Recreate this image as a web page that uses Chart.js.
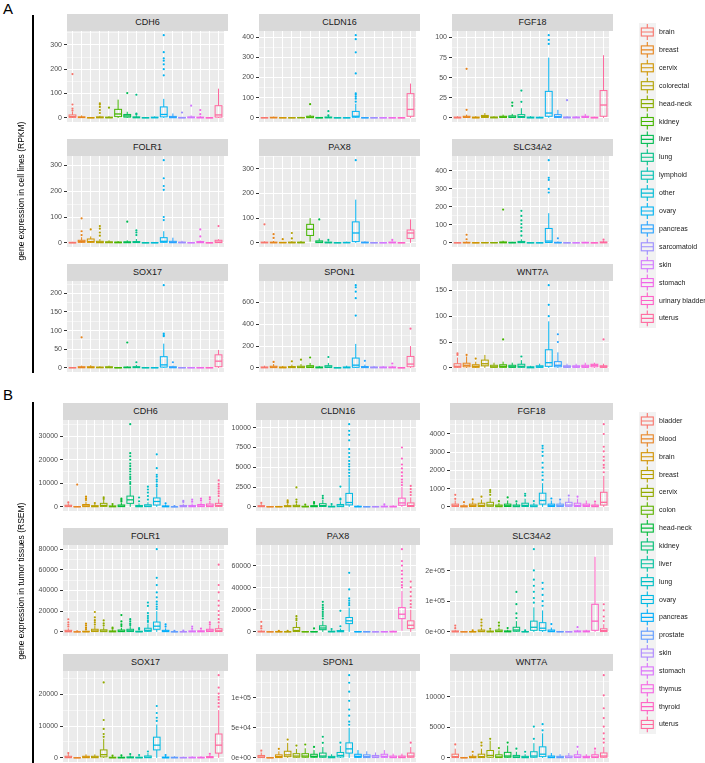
<!DOCTYPE html>
<html lang="en">
<head>
<meta charset="UTF-8">
<title>Gene expression boxplots</title>
<script src="https://cdn.jsdelivr.net/npm/chart.js@4.4.1/dist/chart.umd.min.js"></script>
<style>
  body { margin: 0; background: #fff; font-family: "Liberation Sans", Arial, sans-serif; }
  #fig { position: relative; width: 705px; height: 763px; overflow: hidden; background: #fff; }
  canvas { position: absolute; }
  .strip { position: absolute; height: 17px; line-height: 17px; background: #d9d9d9; color: #1a1a1a; font-size: 9px; text-align: center; }
  .letter { position: absolute; font-size: 15px; color: #000; }
  .ytitle { position: absolute; width: 360px; height: 10px; line-height: 10px; font-size: 8.5px; text-align: center; transform: rotate(-90deg); white-space: nowrap; color: #000; }
  .vline { position: absolute; width: 2px; background: #000; }
  .klab { position: absolute; font-size: 7px; color: #1a1a1a; white-space: nowrap; }
</style>
</head>
<body>
<div id="fig"></div>
<script>
// ---- categories ----
const cellLines = ['brain', 'breast', 'cervix', 'colorectal', 'head-neck', 'kidney', 'liver', 'lung', 'lymphoid',
  'other', 'ovary', 'pancreas', 'sarcomatoid', 'skin', 'stomach', 'urinary bladder', 'uterus'];
const tumors = ['bladder', 'blood', 'brain', 'breast', 'cervix', 'colon', 'head-neck', 'kidney', 'liver', 'lung',
  'ovary', 'pancreas', 'prostate', 'skin', 'stomach', 'thymus', 'thyroid', 'uterus'];

// ---- panel A, cell lines (RPKM): [lower whisker, q1, median, q3, upper whisker] ----
const A_CDH6_box = [[0,2,5,12,25],[0,1,2,4,10],[0,0,0.5,1,3],[0,0.5,1.5,4,9],[0,0.5,1,3,7],[0,5,16,35,75],[0,3,8,14,25],
  [0,0.5,1.5,4,10],[0,0,0.5,1,3],[0,0.5,1,3,6],[0,4,14,45,78],[0,0.5,2,6,18],[0,0,0.5,2,4],[0,0.5,1.5,4,10],[0,0.3,1,3,8],[0,0,0.3,1,2],[0,3,12,50,120]];
const A_CDH6_out = [[30,38,55,180],[],[],[20,32,45,55,60],[42],[],[102],[14,18,95],[],[],[175,200,220,235,245,270,340],[],[22],[50],[15,32],[],[]];
const A_CDH6_ticks = [0, 100, 200, 300];

const A_CLDN16_box = [[0,0,0.5,1.5,3],[0,0.5,1,3,6],[0,0,0.5,1,2],[0,0,0.5,1,2],[0,0.5,1,2,5],[0,1,3,8,15],[0,0,0.5,2,4],
  [0,0.5,1.5,4,10],[0,0,0.3,1,2],[0,0,0.3,1,2],[0,3,8,32,70],[0,0,0.5,1,3],[0,0,0.3,1,2],[0,0,0.3,1,2],[0,0,0.3,1,2],[0,0,0.3,1,2],[0,8,42,120,170]];
const A_CLDN16_out = [[],[],[],[],[],[68],[],[12,33],[],[],[80,95,105,115,122,220,325,390,410],[],[],[],[],[],[]];
const A_CLDN16_ticks = [0, 100, 200, 300, 400];

const A_FGF18_box = [[0,0,0.3,1,2],[0,0.5,1,2,4],[0,0,0.3,1,2],[0,0.5,1.5,3,6],[0,0,0.5,1,2],[0,0.5,1,2,4],[0,0.5,1,2.5,5],
  [0,0.5,1.5,4,12],[0,0,0.3,1,2],[0,0,0.3,0.8,1.5],[0,2,6,33,75],[0,0.5,1.5,4,10],[0,0,0.5,1,2],[0,0,0.5,1,2],[0,0.5,1,2,5],[0,0,0.3,0.8,1.5],[0,2,16,34,78]];
const A_FGF18_out = [[],[10,61],[],[],[],[],[15,19],[20,34],[],[],[92,97,103],[],[22],[],[],[],[]];
const A_FGF18_ticks = [0, 25, 50, 75, 100];

const A_FOLR1_box = [[0,0,0.5,2,4],[0,2,5,10,22],[0,2,5,15,25],[0,0.5,2,6,15],[0,0.5,2,4,10],[0,0.5,1.5,3,7],[0,0.5,2,4,10],
  [0,1,2,5,15],[0,0,0.3,1,2],[0,0,0.5,1.5,3],[0,2,6,20,45],[0,0.5,2,6,20],[0,0.5,1,3,8],[0,0,0.5,1,3],[0,0.5,2,5,9],[0,0,0.3,1,2],[0,1,3,10,14]];
const A_FOLR1_out = [[],[30,45,95],[52],[28,40,55,65],[],[],[82],[30,40,48],[],[],[88,100,205,220,250,320],[],[],[],[25,52],[],[65]];
const A_FOLR1_ticks = [0, 100, 200, 300];

const A_PAX8_box = [[0,0.5,1,3,6],[0,0.5,1,3,8],[0,0.5,1,2,4],[0,0.5,1,3,7],[0,0.5,1,3,8],[5,30,55,75,100],[0,1,3,8,18],
  [0,0.5,1,3,6],[0,0,0.5,1,3],[0,0.5,1,2,5],[0,5,40,85,175],[0,0.5,1,3,6],[0,0,0.5,1,3],[0,0,0.5,1,2],[0,0.5,1,3,6],[0,0,0.5,1,3],[0,18,40,52,95]];
const A_PAX8_out = [[75],[20,35],[15],[18,40],[],[],[95],[12],[],[],[335],[],[],[],[12],[],[]];
const A_PAX8_ticks = [0, 100, 200, 300];

const A_SLC34A2_box = [[0,0,0.5,1,3],[0,0.5,1,3,8],[0,0,0.5,1,3],[0,0.5,1,2,5],[0,0.5,1,2,5],[0,0.5,2,5,12],[0,0.5,1,3,6],
  [0,1,3,8,20],[0,0,0.5,1,2],[0,0,0.5,1,2],[0,2,10,80,165],[0,0.5,1,3,8],[0,0,0.5,1,2],[0,0,0.5,1,2],[0,0.5,1,3,6],[0,0,0.5,1,2],[0,0.5,2,5,12]];
const A_SLC34A2_out = [[],[20,45],[],[],[],[185],[],[40,65,85,105,125,150,178],[],[],[280,300,350,362,460],[25],[],[],[],[],[18]];
const A_SLC34A2_ticks = [0, 100, 200, 300, 400];

const A_SOX17_box = [[0,0,0.5,1,2],[0,0.5,1,3,6],[0,0.5,1,3,7],[0,0.5,1,2,4],[0,0.5,1,3,6],[0,0,0.5,1,2],[0,0.5,1,2,4],
  [0,0.5,1.5,3,8],[0,0,0.5,1,2],[0,0,0.5,1,2],[0,2,8,30,65],[0,0.5,1,3,6],[0,0,0.5,1,2],[0,0,0.5,1,2],[0,0,0.5,1,2],[0,0,0.5,1,2],[0,3,18,35,48]];
const A_SOX17_out = [[],[82],[],[],[],[],[68],[15],[],[],[85,88,92,222],[15],[],[],[],[],[]];
const A_SOX17_ticks = [0, 50, 100, 150, 200];

const A_SPON1_box = [[0,1,3,8,20],[0,2,6,15,35],[0,1,3,8,18],[0,2,5,12,30],[0,2,6,15,35],[0,3,8,20,45],[0,1,3,8,18],
  [0,3,8,20,45],[0,0,1,3,6],[0,1,3,8,20],[0,5,25,90,220],[0,2,5,12,30],[0,1,3,8,18],[0,1,3,8,18],[0,1,3,8,20],[0,0,1,3,6],[0,10,35,105,200]];
const A_SPON1_out = [[],[55],[],[60],[75],[95],[],[100],[],[],[480,640,700,740,760],[65],[],[],[40],[],[360]];
const A_SPON1_ticks = [0, 200, 400, 600];

const A_WNT7A_box = [[0,1,3,8,20],[0,2,5,9,22],[0,1,3,6,12],[0,4,8,15,25],[0,1,2,5,10],[0,1,3,6,12],[0,1,2,5,10],
  [0,1,3,7,15],[0,0,1,2,4],[0,1,2,4,8],[0,3,10,35,90],[0,2,5,12,30],[0,1,2,4,8],[0,1,2,4,8],[0,1,2,5,10],[0,2,5,7,10],[0,1,2,4,8]];
const A_WNT7A_out = [[25,28],[25],[18],[],[],[55],[],[22],[],[],[100,122,160],[50,65],[],[],[],[],[55]];
const A_WNT7A_ticks = [0, 50, 100, 150];

// ---- panel B, tumor tissues (RSEM) ----
const B_CDH6_box = [[0,100,300,700,1500],[0,20,60,150,350],[0,100,400,1000,2200],[0,50,200,500,1200],[0,200,600,1500,3000],[0,50,150,400,900],
  [0,100,300,800,1800],[0,1500,3000,4600,9000],[0,50,200,600,1500],[0,100,300,900,2000],[0,800,2300,3800,8000],[0,50,150,400,1000],
  [0,10,30,80,200],[0,50,200,600,1400],[0,50,200,600,1500],[0,100,400,1000,2000],[0,100,400,1200,2500],[0,200,600,1500,3500]];
const B_CDH6_out = [[1900],[9500],[2900,3600,4400],[1600],[3400,4100],[1200],[2300,2900,3500],
  [9800,10600,11900,12700,13800,15100,16200,17400,18500,20100,21600,22900,35300],[2400,4000],[3100,4600,6100,7400,8600],
  [8700,9500,10800,11600,12900,13700,16500,22400],[1500],[350],[2100,2600],[2200,3100],[2700,3500],[3200,4100],[4600,5700,6600,7800,8700,9800,11300]];
const B_CDH6_ticks = [0, 10000, 20000, 30000];

const B_CLDN16_box = [[0,20,60,150,350],[0,5,15,40,100],[0,5,20,50,120],[0,20,60,150,350],[0,20,80,200,450],[0,10,30,80,200],
  [0,20,60,150,350],[0,50,150,400,900],[0,10,30,80,200],[0,30,100,300,700],[0,250,550,1700,3700],[0,10,30,80,200],
  [0,5,15,40,100],[0,5,20,50,120],[0,10,30,80,200],[0,10,30,80,200],[0,200,500,1100,2500],[0,50,150,500,1200]];
const B_CLDN16_out = [[500],[],[],[520,660,820],[610,920,2450],[300],[460,610],[1100,1400],[350],[920,1040,2560],
  [3900,4300,4700,5100,5400,5800,6300,6800,7300,8400,9100,9600,10450],[],[],[],[310],[],[2750,3100,3450,3900,4350,4850,5350,6100,7500],[1500,1850,2250,2650]];
const B_CLDN16_ticks = [0, 2500, 5000, 7500, 10000];

const B_FGF18_box = [[0,20,60,150,350],[0,5,20,60,150],[0,20,60,150,300],[0,20,80,200,400],[0,30,100,250,500],[0,10,40,100,220],
  [0,20,60,150,350],[0,10,40,100,220],[0,20,80,200,450],[0,10,40,100,220],[0,150,350,750,1300],[0,20,60,150,350],
  [0,20,60,150,300],[0,30,100,250,500],[0,20,80,200,450],[0,20,60,150,350],[0,10,40,100,220],[0,100,250,800,1700]];
const B_FGF18_out = [[440,660],[260],[410],[560],[660,810,920],[310],[520],[300],[610,720],[320],
  [1480,1720,1900,2150,2420,2800,3020,3210,3350],[460],[400],[620],[560],[],[290],[1900,2150,2300,2550,2750,3050,3300,4000,4540]];
const B_FGF18_ticks = [0, 1000, 2000, 3000, 4000];

const B_FOLR1_box = [[0,100,400,1500,3500],[0,10,40,120,300],[0,50,200,600,1500],[0,300,900,2500,6000],[0,200,800,2000,4500],[0,100,300,900,2000],
  [0,200,600,1800,4000],[0,300,1000,2500,5500],[0,50,200,600,1500],[0,500,1500,3500,8000],[0,2500,5500,9500,20000],[0,200,600,1500,3500],
  [0,20,80,250,600],[0,30,100,300,700],[0,100,300,900,2000],[0,100,400,1000,2200],[0,300,900,2500,6000],[0,300,1000,3000,7000]];
const B_FOLR1_out = [[5200,7100,9300,12200],[600],[2600,4100,6200,8100],[7100,9200,11300,14100,19200],[6100,8200,11100],[3100,4200],
  [5600,7300,10100,16200],[6600,8100,10200,12300],[2600,3600],[9600,11200,13300,15400,18200,25100,28300],
  [22100,24300,26600,29200,33400,38100,45200,52300,80000],[5100,7200],[1100],[1300],[3100,5200],[3200],[7200,9300],
  [9100,12400,16300,20200,25400,30100,38200,45300,65000]];
const B_FOLR1_ticks = [0, 20000, 40000, 60000, 80000];

const B_PAX8_box = [[0,50,200,600,1500],[0,10,30,100,250],[0,20,80,250,600],[0,20,80,250,600],[0,300,1200,4000,9000],[0,20,80,250,600],
  [0,30,100,300,800],[0,2000,3500,5500,10000],[0,50,200,600,1500],[0,100,400,1200,3000],[0,7500,10000,13000,22000],[0,30,100,300,800],
  [0,20,80,250,600],[0,10,40,120,300],[0,30,100,300,800],[0,50,150,500,1200],[1000,12000,16000,22000,37000],[0,3000,6000,10000,20000]];
const B_PAX8_out = [[3100,5200,9100],[],[1000],[1000],[10600,12100,14200],[],[3100],[12100,14300,16200,18100,20300,22200,24400,27200],
  [2600],[5100,19100],[24200,26100,28300,30400,38500,53500],[],[],[],[],[],[40200,42300,45100,48400,52200,55300,60100,64200,75000],
  [22300,25100,28400,32200,36300,40400,45600]];
const B_PAX8_ticks = [0, 20000, 40000, 60000];

const B_SLC34A2_box = [[0,200,800,3000,7000],[0,50,200,600,1500],[0,100,400,1200,3000],[0,500,2000,6000,14000],[0,200,800,2500,6000],[0,500,2000,6000,14000],
  [0,300,1000,3000,7000],[0,2000,6000,15000,35000],[0,100,400,1200,3000],[0,5000,15000,35000,80000],[0,4000,12000,30000,70000],[0,500,2000,6000,14000],
  [0,100,400,1200,3000],[0,50,200,600,1500],[0,300,1000,3000,7000],[0,300,1000,3000,7000],[0,5000,35000,90000,245000],[0,1000,4000,10000,25000]];
const B_SLC34A2_out = [[12000,20500],[],[5100],[20300,30500,40200],[10100],[20200,30400],[12300],[45200,60300,90500,130200],[5200],
  [95300,110400,130600,150200,170300,200500,270000],[85200,100300,120400,140600,160200],[25300],[],[],[15200],[],[],[35400,50200,70300,90100]];
const B_SLC34A2_ticks = [0, 100000, 200000];
const B_SLC34A2_labels = ['0e+00', '1e+05', '2e+05'];

const B_SOX17_box = [[0,50,150,500,1200],[0,5,20,60,150],[0,50,200,500,1100],[0,50,200,500,1100],[0,300,1000,2500,6000],[0,20,80,200,500],
  [0,20,80,200,500],[0,30,100,300,800],[0,20,80,200,500],[0,50,200,600,1500],[0,2500,4000,6500,10500],[0,20,80,250,600],
  [0,20,80,200,500],[0,20,60,150,400],[0,20,80,200,500],[0,20,80,200,500],[0,50,150,400,1000],[0,1500,4000,7500,15000]];
const B_SOX17_out = [[1500],[],[],[],[6600,7500,9100,11900,23700],[700],[800],[1200],[900],[2000],[11600,12600,14100,16300],[900],[],[],[],[],[1300],
  [16100,17200,18300,19100,20200,22100,26000]];
const B_SOX17_ticks = [0, 10000, 20000];

const B_SPON1_box = [[0,500,1500,4000,9000],[0,50,200,600,1500],[0,500,2000,5000,11000],[0,2000,5000,11000,25000],[0,1000,3000,7000,15000],[0,1000,3000,7000,16000],
  [0,1000,2500,6000,13000],[0,1000,3000,8000,18000],[0,200,800,2500,6000],[0,1500,4000,9000,20000],[0,8000,15000,25000,50000],[0,800,2500,6000,13000],
  [0,500,2000,5000,11000],[0,500,1500,4000,9000],[0,800,2500,6000,13000],[0,300,1000,3000,7000],[0,300,1000,3000,7000],[0,1000,3000,8000,18000]];
const B_SPON1_out = [[12000],[],[15000],[30500],[20500],[22300],[18200],[25100,35200],[],[25300],[55200,60400,70300,80600,95200,110400,125300,138000],[],[],[],[],[],[],[25400]];
const B_SPON1_ticks = [0, 50000, 100000];
const B_SPON1_labels = ['0e+00', '5e+04', '1e+05'];

const B_WNT7A_box = [[0,50,200,600,1500],[0,5,20,60,150],[0,20,80,250,600],[0,50,200,600,1500],[0,100,400,1200,2800],[0,50,150,500,1200],
  [0,100,300,900,2000],[0,50,150,400,1000],[0,20,80,250,600],[0,100,300,1000,2400],[0,200,600,1800,4000],[0,30,100,300,800],
  [0,20,80,250,600],[0,30,100,300,800],[0,50,150,500,1200],[0,20,80,250,600],[0,50,150,500,1200],[0,100,300,800,1800]];
const B_WNT7A_out = [[2200],[],[1000],[2000,2500],[3100],[1600],[2500],[1500],[1000],[3100,5100],[4500,5500],[],[],[],[1800],[],[1500],
  [2500,3100,4000,5100,6500,8100,10200,13500]];
const B_WNT7A_ticks = [0, 5000, 10000];

// ---- layout ----
const FONT = '"Liberation Sans", Arial, sans-serif';
const colLeftA = [67, 259, 452], colRightA = [228, 420, 613];
const colLeftB = [63, 256, 450], colRightB = [228, 420, 613];
const rowTopA = [14, 139, 264], rowTopB = [403, 528, 654];
const STRIP_H = 17, PANEL_H = 91, AXIS_W = 46, PAD = 6;

const facets = [
  ['CDH6', A_CDH6_box, A_CDH6_out, A_CDH6_ticks, null], ['CLDN16', A_CLDN16_box, A_CLDN16_out, A_CLDN16_ticks, null],
  ['FGF18', A_FGF18_box, A_FGF18_out, A_FGF18_ticks, null], ['FOLR1', A_FOLR1_box, A_FOLR1_out, A_FOLR1_ticks, null],
  ['PAX8', A_PAX8_box, A_PAX8_out, A_PAX8_ticks, null], ['SLC34A2', A_SLC34A2_box, A_SLC34A2_out, A_SLC34A2_ticks, null],
  ['SOX17', A_SOX17_box, A_SOX17_out, A_SOX17_ticks, null], ['SPON1', A_SPON1_box, A_SPON1_out, A_SPON1_ticks, null],
  ['WNT7A', A_WNT7A_box, A_WNT7A_out, A_WNT7A_ticks, null],
  ['CDH6', B_CDH6_box, B_CDH6_out, B_CDH6_ticks, null], ['CLDN16', B_CLDN16_box, B_CLDN16_out, B_CLDN16_ticks, null],
  ['FGF18', B_FGF18_box, B_FGF18_out, B_FGF18_ticks, null], ['FOLR1', B_FOLR1_box, B_FOLR1_out, B_FOLR1_ticks, null],
  ['PAX8', B_PAX8_box, B_PAX8_out, B_PAX8_ticks, null], ['SLC34A2', B_SLC34A2_box, B_SLC34A2_out, B_SLC34A2_ticks, B_SLC34A2_labels],
  ['SOX17', B_SOX17_box, B_SOX17_out, B_SOX17_ticks, null], ['SPON1', B_SPON1_box, B_SPON1_out, B_SPON1_ticks, B_SPON1_labels],
  ['WNT7A', B_WNT7A_box, B_WNT7A_out, B_WNT7A_ticks, null]
];

// ggplot2 default hue palette (hcl, c = 100, l = 65)
function hcl(h, c, l) {
  const hr = h * Math.PI / 180, U = c * Math.cos(hr), V = c * Math.sin(hr);
  const Xn = 95.047, Yn = 100, Zn = 108.883;
  const un = 4 * Xn / (Xn + 15 * Yn + 3 * Zn), vn = 9 * Yn / (Xn + 15 * Yn + 3 * Zn);
  const Y = Yn * Math.pow((l + 16) / 116, 3);
  const u = U / (13 * l) + un, v = V / (13 * l) + vn;
  const X = 9 * Y * u / (4 * v), Z = -X / 3 - 5 * Y + 3 * Y / v;
  const g = t => { t = t > 0.00304 ? 1.055 * Math.pow(t, 1 / 2.4) - 0.055 : 12.92 * t; return Math.round(255 * Math.max(0, Math.min(1, t))); };
  const r = g((3.240479 * X - 1.537150 * Y - 0.498535 * Z) / 100);
  const gg = g((-0.969256 * X + 1.875992 * Y + 0.041556 * Z) / 100);
  const b = g((0.055648 * X - 0.204043 * Y + 1.057311 * Z) / 100);
  return 'rgb(' + r + ',' + gg + ',' + b + ')';
}
function huePal(n) {
  const out = [];
  for (let i = 0; i < n; i++) out.push(hcl((15 + 360 * i / n) % 360, 100, 65));
  return out;
}
const colorsA = huePal(cellLines.length), colorsB = huePal(tumors.length);

const fig = document.getElementById('fig');
function addDiv(cls, css, text) {
  const d = document.createElement('div');
  d.className = cls;
  Object.assign(d.style, css);
  if (text !== undefined) d.textContent = text;
  fig.appendChild(d);
  return d;
}

const bgPlugin = {
  id: 'panelBg',
  beforeDraw(chart) {
    const a = chart.chartArea, c = chart.ctx;
    c.save(); c.fillStyle = '#ebebeb'; c.fillRect(a.left, a.top, a.right - a.left, a.bottom - a.top); c.restore();
  }
};

// boxes, whiskers and medians, placed through the chart's own scales
function boxPlugin(stats, colors) {
  return {
    id: 'boxes',
    beforeDatasetsDraw(chart) {
      const c = chart.ctx, x = chart.scales.x, y = chart.scales.y, a = chart.chartArea;
      const half = (x.getPixelForValue(1.375) - x.getPixelForValue(1));
      c.save();
      c.beginPath(); c.rect(a.left, a.top, a.right - a.left, a.bottom - a.top); c.clip();
      stats.forEach((s, i) => {
        const cx = x.getPixelForValue(i + 1);
        const lo = y.getPixelForValue(s[0]), q1 = y.getPixelForValue(s[1]), md = y.getPixelForValue(s[2]);
        const q3 = y.getPixelForValue(s[3]), hi = y.getPixelForValue(s[4]);
        c.strokeStyle = colors[i];
        c.lineWidth = 1;
        c.beginPath();
        c.moveTo(cx, q3); c.lineTo(cx, hi);
        c.moveTo(cx, q1); c.lineTo(cx, lo);
        c.stroke();
        c.strokeRect(cx - half, q3, 2 * half, q1 - q3);
        c.lineWidth = 1.3;
        c.beginPath(); c.moveTo(cx - half, md); c.lineTo(cx + half, md); c.stroke();
      });
      c.restore();
    }
  };
}

function drawFacet(f, idx) {
  const [name, stats, outs, ticks, labels] = f;
  const isA = idx < 9, k = idx % 9, col = k % 3, row = Math.floor(k / 3);
  const cats = isA ? cellLines : tumors, colors = isA ? colorsA : colorsB;
  const left = (isA ? colLeftA : colLeftB)[col], right = (isA ? colRightA : colRightB)[col];
  const top = (isA ? rowTopA : rowTopB)[row];
  const w = right - left;

  let ymax = 0;
  stats.forEach(s => { ymax = Math.max(ymax, s[4]); });
  outs.forEach(o => o.forEach(v => { ymax = Math.max(ymax, v); }));
  const ymin = -0.05 * ymax, ytop = ymax * 1.05;

  const step = ticks[1] - ticks[0];
  const yt = [];
  ticks.forEach(v => yt.push({ value: v, major: true }));
  if (ticks[0] - step / 2 >= ymin) yt.push({ value: ticks[0] - step / 2, minor: true });
  ticks.forEach(v => { if (v + step / 2 <= ytop) yt.push({ value: v + step / 2, minor: true }); });
  yt.sort((p, q) => p.value - q.value);

  const pts = [];
  outs.forEach((o, i) => o.forEach(v => pts.push({ x: i + 1, y: v })));

  const cv = document.createElement('canvas');
  const W = AXIS_W + w, H = PANEL_H + 2 * PAD;
  cv.width = W; cv.height = H;
  Object.assign(cv.style, { left: (left - AXIS_W) + 'px', top: (top + STRIP_H - PAD) + 'px', width: W + 'px', height: H + 'px' });
  fig.appendChild(cv);

  new Chart(cv, {
    type: 'scatter',
    data: {
      datasets: [{
        data: pts,
        pointRadius: 1.1,
        pointBorderWidth: 0,
        pointBackgroundColor: ctx => colors[(ctx.raw ? ctx.raw.x : 1) - 1]
      }]
    },
    options: {
      responsive: false, animation: false, devicePixelRatio: 1,
      layout: { padding: { top: PAD, bottom: PAD, left: 0, right: 0 } },
      plugins: { legend: { display: false }, tooltip: { enabled: false } },
      scales: {
        x: {
          type: 'linear', min: 0.4, max: cats.length + 0.6,
          afterBuildTicks: s => { s.ticks = cats.map((c, i) => ({ value: i + 1 })); },
          afterFit: s => { s.height = 0; s.paddingLeft = 0; s.paddingRight = 0; },
          ticks: { display: false },
          grid: { color: '#ffffff', lineWidth: 1, drawTicks: false },
          border: { display: false }
        },
        y: {
          type: 'linear', min: ymin, max: ytop,
          afterBuildTicks: s => { s.ticks = yt.map(t => Object.assign({}, t)); },
          afterFit: s => { s.width = AXIS_W; s.paddingTop = 0; s.paddingBottom = 0; },
          ticks: {
            autoSkip: false, padding: 2, color: '#4d4d4d', font: { size: 7, family: FONT },
            callback: (v, i, arr) => {
              if (arr[i].minor) return '';
              const j = ticks.indexOf(v);
              return labels ? labels[j] : String(v);
            }
          },
          grid: {
            color: '#ffffff',
            lineWidth: ctx => (ctx.tick && ctx.tick.minor) ? 0.5 : 1,
            tickColor: ctx => (ctx.tick && ctx.tick.minor) ? 'rgba(0,0,0,0)' : '#333333',
            tickLength: 3, tickWidth: 1
          },
          border: { display: false }
        }
      }
    },
    plugins: [bgPlugin, boxPlugin(stats, colors)]
  });

  addDiv('strip', { left: left + 'px', top: top + 'px', width: w + 'px' }, name);
}

facets.forEach(drawFacet);

// ---- panel decorations ----
addDiv('letter', { left: '3px', top: '0px' }, 'A');
addDiv('letter', { left: '3px', top: '386px' }, 'B');
addDiv('vline', { left: '32px', top: '15px', height: '358px' });
addDiv('vline', { left: '32px', top: '402px', height: '361px' });
addDiv('ytitle', { left: (21 - 180) + 'px', top: (191 - 5) + 'px' }, 'gene expression in cell lines (RPKM)');
addDiv('ytitle', { left: (21 - 180) + 'px', top: (581 - 5) + 'px' }, 'gene expression in tumor tissues (RSEM)');

// ---- legends: key column drawn on a small canvas, labels as text ----
function drawLegend(cats, colors, y0, pitch) {
  const top = Math.round(y0 - pitch / 2), h = Math.round(pitch * cats.length) + 1;
  const cv = document.createElement('canvas');
  cv.width = 17; cv.height = h;
  Object.assign(cv.style, { left: '639px', top: top + 'px', width: '17px', height: h + 'px' });
  fig.appendChild(cv);
  const c = cv.getContext('2d');
  c.fillStyle = '#f2f2f2';
  c.fillRect(0, 0, 17, h);
  cats.forEach((name, i) => {
    const k0 = i * pitch, k1 = (i + 1) * pitch;
    const cy = y0 + i * pitch - top;
    c.strokeStyle = colors[i];
    c.lineWidth = 1.1;
    c.beginPath();
    c.moveTo(8.3, k0 + 1); c.lineTo(8.3, cy - 4);
    c.moveTo(8.3, cy + 4); c.lineTo(8.3, k1 - 1);
    c.moveTo(2.3, cy); c.lineTo(14.3, cy);
    c.stroke();
    c.strokeRect(2.3, cy - 4, 12, 8);
    addDiv('klab', { left: '659px', top: (y0 + i * pitch - 5) + 'px', lineHeight: '10px' }, name);
  });
}
drawLegend(cellLines, colorsA, 32, 17.9);
drawLegend(tumors, colorsB, 421, 17.85);
</script>
</body>
</html>
